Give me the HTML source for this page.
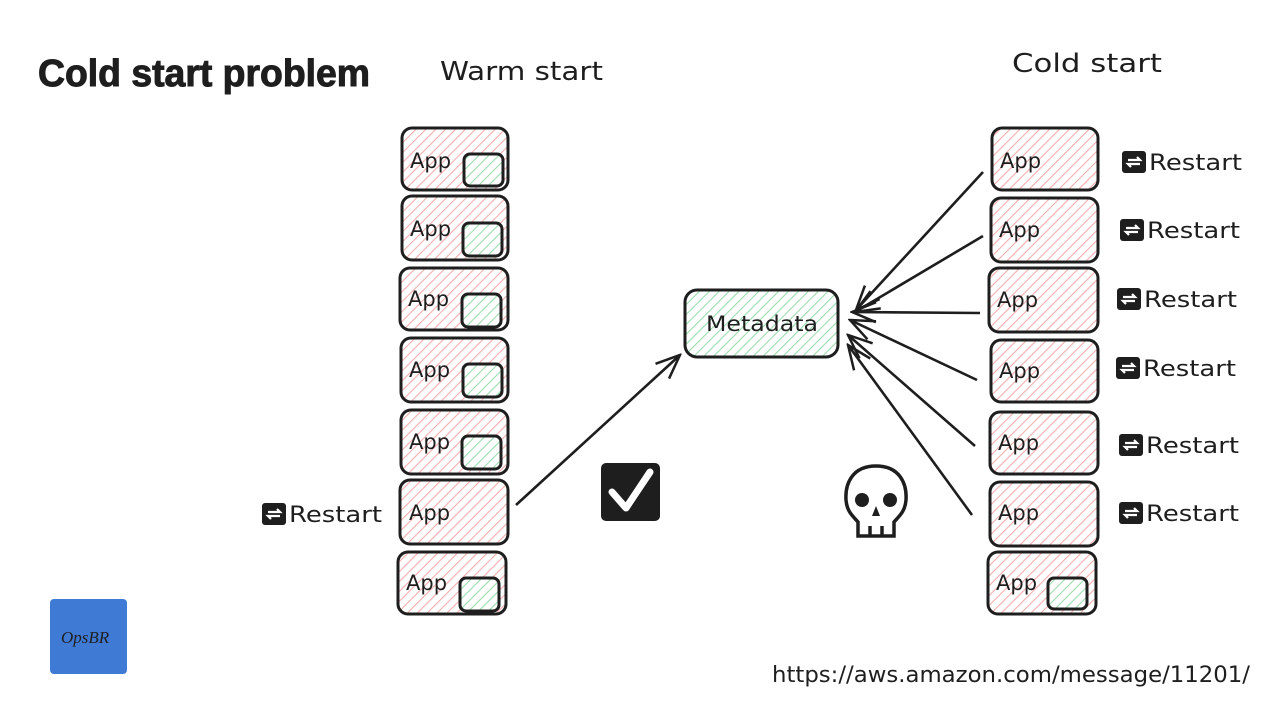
<!DOCTYPE html>
<html><head><meta charset="utf-8"><style>
html,body{margin:0;padding:0;background:#fff;width:1280px;height:720px;overflow:hidden}
svg text{font-family:"DejaVu Sans","Liberation Sans",sans-serif;fill:#1e1e1e}
</style></head><body>
<svg width="1280" height="720" viewBox="0 0 1280 720" xmlns="http://www.w3.org/2000/svg">
<defs>
<pattern id="pk" width="7" height="7" patternUnits="userSpaceOnUse" patternTransform="rotate(45)">
<rect width="7" height="7" fill="#fff"/><line x1="0" y1="0" x2="0" y2="7" stroke="#f3aeae" stroke-width="2.2"/></pattern>
<pattern id="gr" width="7" height="7" patternUnits="userSpaceOnUse" patternTransform="rotate(45)">
<rect width="7" height="7" fill="#fff"/><line x1="0" y1="0" x2="0" y2="7" stroke="#9ddcae" stroke-width="2.2"/></pattern>
<marker id="ah" markerWidth="28" markerHeight="28" refX="26" refY="12" orient="auto" markerUnits="userSpaceOnUse">
<path d="M2,2 L26,12 L2,22" fill="none" stroke="#1e1e1e" stroke-width="2.5"/></marker>
<g id="rs"><rect x="0" y="0" width="24" height="22" rx="3" fill="#1e1e1e"/>
<path d="M6,9 h12 l-3,-3 M18,13 h-12 l3,3" stroke="#fff" stroke-width="2.2" fill="none"/></g>
</defs>

<text x="38" y="86" textLength="332" lengthAdjust="spacingAndGlyphs" style="font-family:'Liberation Sans',sans-serif;font-weight:bold;font-size:38px;stroke:#1e1e1e;stroke-width:1">Cold start problem</text>
<text x="440" y="80" font-size="26" textLength="163" lengthAdjust="spacingAndGlyphs">Warm start</text>
<text x="1012" y="72" font-size="26" textLength="150" lengthAdjust="spacingAndGlyphs">Cold start</text>

<g stroke="#1e1e1e" stroke-width="3">
<rect x="402" y="128" width="106" height="62" rx="10" fill="url(#pk)"/>
<rect x="402" y="196" width="106" height="64" rx="10" fill="url(#pk)"/>
<rect x="400" y="268" width="108" height="62" rx="10" fill="url(#pk)"/>
<rect x="401" y="338" width="107" height="64" rx="10" fill="url(#pk)"/>
<rect x="401" y="410" width="107" height="64" rx="10" fill="url(#pk)"/>
<rect x="400" y="480" width="108" height="64" rx="10" fill="url(#pk)"/>
<rect x="398" y="552" width="108" height="62" rx="10" fill="url(#pk)"/>
<rect x="464" y="154" width="39" height="32" rx="6" fill="url(#gr)"/>
<rect x="463" y="223" width="39" height="33" rx="6" fill="url(#gr)"/>
<rect x="462" y="294" width="39" height="33" rx="6" fill="url(#gr)"/>
<rect x="463" y="364" width="39" height="33" rx="6" fill="url(#gr)"/>
<rect x="462" y="436" width="39" height="33" rx="6" fill="url(#gr)"/>
<rect x="460" y="578" width="39" height="33" rx="6" fill="url(#gr)"/>
<rect x="992" y="128" width="106" height="62" rx="10" fill="url(#pk)"/>
<rect x="991" y="198" width="107" height="64" rx="10" fill="url(#pk)"/>
<rect x="989" y="268" width="109" height="64" rx="10" fill="url(#pk)"/>
<rect x="991" y="340" width="107" height="62" rx="10" fill="url(#pk)"/>
<rect x="990" y="412" width="108" height="62" rx="10" fill="url(#pk)"/>
<rect x="990" y="482" width="108" height="64" rx="10" fill="url(#pk)"/>
<rect x="988" y="552" width="108" height="62" rx="10" fill="url(#pk)"/>
<rect x="1048" y="578" width="39" height="31" rx="6" fill="url(#gr)"/>
<rect x="685" y="290" width="153" height="67" rx="12" fill="url(#gr)"/>
</g>

<g font-size="21">
<text x="410" y="168">App</text><text x="410" y="236">App</text><text x="408" y="306">App</text>
<text x="409" y="377">App</text><text x="409" y="449">App</text><text x="409" y="520">App</text><text x="406" y="590">App</text>
<text x="1000" y="168">App</text><text x="999" y="237">App</text><text x="997" y="307">App</text>
<text x="999" y="378">App</text><text x="998" y="450">App</text><text x="998" y="520">App</text><text x="996" y="590">App</text>
</g>
<text x="706" y="331" font-size="21" textLength="112" lengthAdjust="spacingAndGlyphs">Metadata</text>

<g stroke="#1e1e1e" stroke-width="2.6" fill="none" marker-end="url(#ah)">
<line x1="516" y1="505" x2="680" y2="355"/>
<line x1="983" y1="172" x2="856" y2="310"/>
<line x1="983" y1="236" x2="855" y2="312"/>
<line x1="980" y1="313" x2="852" y2="312"/>
<line x1="977" y1="380" x2="850" y2="320"/>
<line x1="975" y1="446" x2="848" y2="335"/>
<line x1="972" y1="515" x2="848" y2="345"/>
</g>

<g font-size="22">
<use href="#rs" x="262" y="503"/><text x="289" y="522" textLength="93" lengthAdjust="spacingAndGlyphs">Restart</text>
<use href="#rs" x="1122" y="151"/><text x="1149" y="170" textLength="93" lengthAdjust="spacingAndGlyphs">Restart</text>
<use href="#rs" x="1120" y="219"/><text x="1147" y="238" textLength="93" lengthAdjust="spacingAndGlyphs">Restart</text>
<use href="#rs" x="1117" y="288"/><text x="1144" y="307" textLength="93" lengthAdjust="spacingAndGlyphs">Restart</text>
<use href="#rs" x="1116" y="357"/><text x="1143" y="376" textLength="93" lengthAdjust="spacingAndGlyphs">Restart</text>
<use href="#rs" x="1119" y="434"/><text x="1146" y="453" textLength="93" lengthAdjust="spacingAndGlyphs">Restart</text>
<use href="#rs" x="1119" y="502"/><text x="1146" y="521" textLength="93" lengthAdjust="spacingAndGlyphs">Restart</text>
</g>

<rect x="601" y="463" width="59" height="58" rx="5" fill="#1e1e1e"/>
<path d="M612,492 L626,508 L650,472" stroke="#fff" stroke-width="7" fill="none" stroke-linecap="round" stroke-linejoin="round"/>

<g stroke="#1e1e1e" stroke-width="3.5" fill="none">
<path d="M876,466 C852,466 845,484 846,500 C847,512 853,516 858,522 L858,536 L894,536 L894,522 C899,516 905,512 906,500 C907,484 900,466 876,466 Z" fill="#fff"/>
<line x1="870" y1="526" x2="870" y2="536"/><line x1="882" y1="526" x2="882" y2="536"/>
</g>
<circle cx="862" cy="500" r="7" fill="#1e1e1e"/><circle cx="890" cy="500" r="7" fill="#1e1e1e"/>
<path d="M876,506 L872,516 L880,516 Z" fill="#1e1e1e"/>

<rect x="50" y="599" width="77" height="75" rx="4" fill="#3f7bd5"/>
<text x="61" y="643" font-size="17" font-style="italic" style="font-family:'Liberation Serif',serif" fill="#10204a">OpsBR</text>

<text x="772" y="682" font-size="22" textLength="478" lengthAdjust="spacingAndGlyphs">https://aws.amazon.com/message/11201/</text>
</svg>
</body></html>
